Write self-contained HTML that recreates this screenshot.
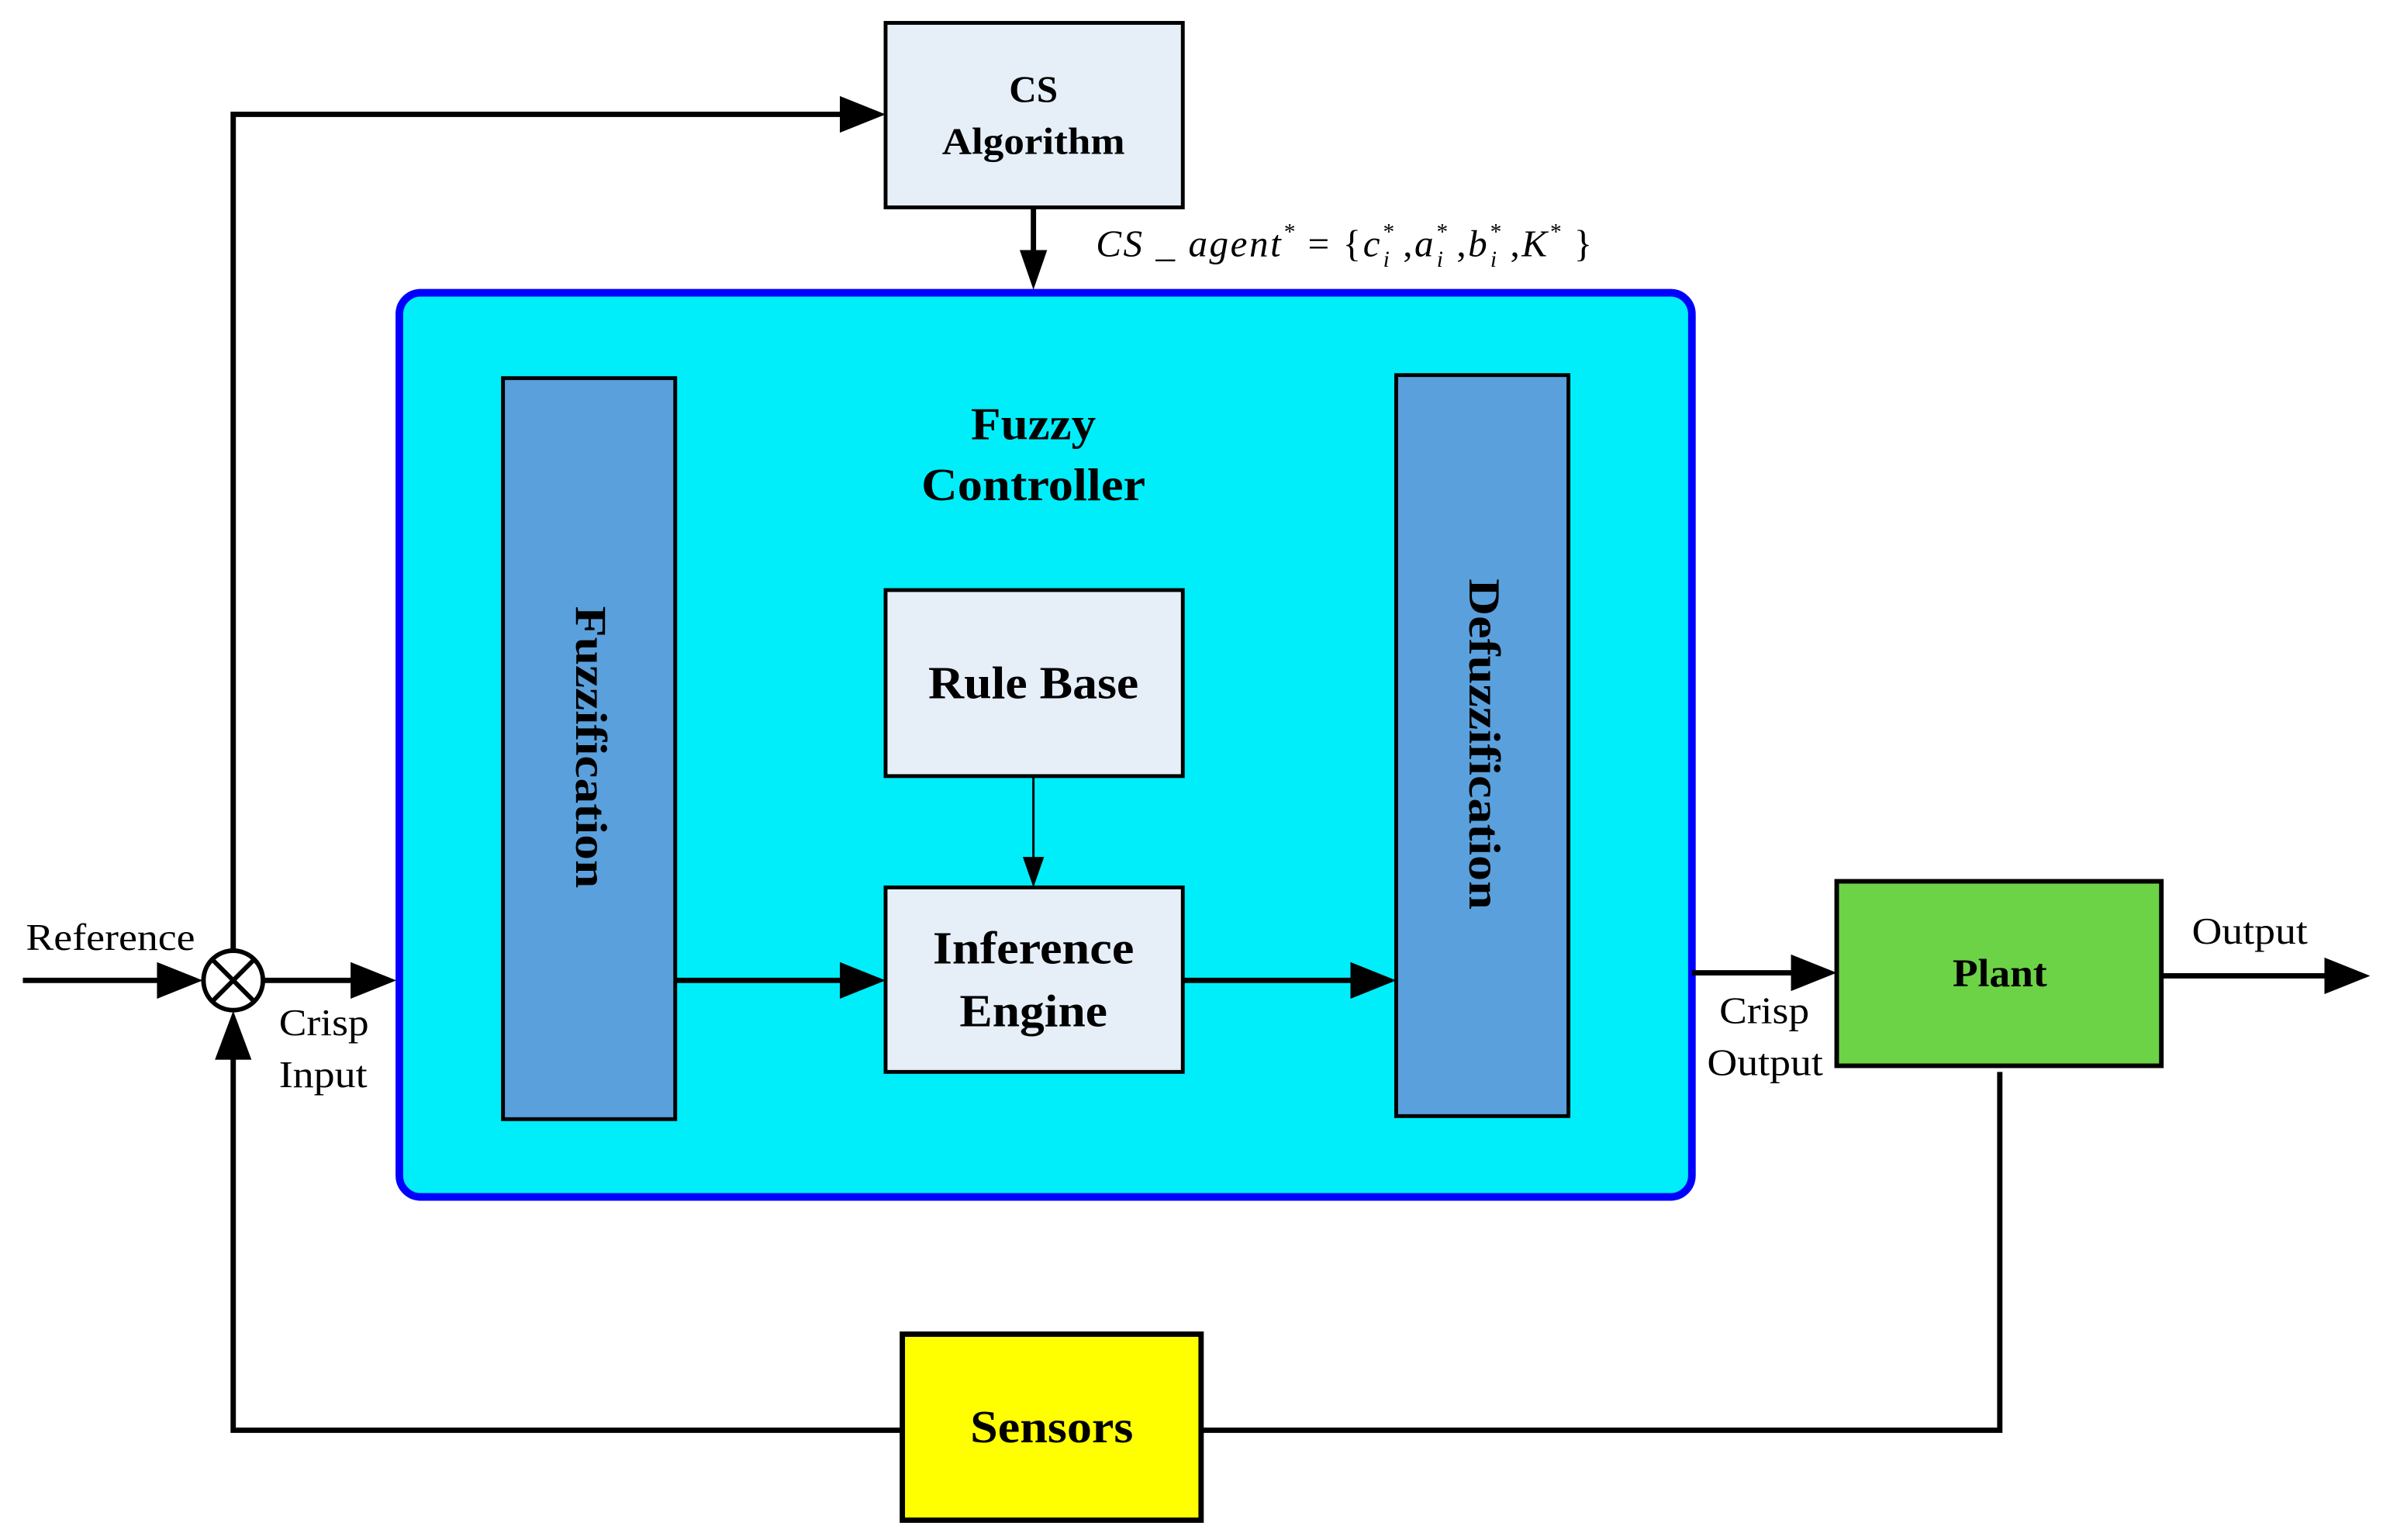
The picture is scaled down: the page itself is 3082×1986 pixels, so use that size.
<!DOCTYPE html>
<html><head><meta charset="utf-8"><style>
html,body{margin:0;padding:0;background:#fff;}
svg{display:block;}
text{font-family:"Liberation Serif",serif;}
</style></head><body>
<svg width="3082" height="1986" viewBox="0 0 1568 1010" preserveAspectRatio="none" xmlns="http://www.w3.org/2000/svg">
<rect x="0" y="0" width="1568" height="1010" fill="#fff"/>
<rect x="262" y="192" width="848" height="593" rx="14" fill="#00eefa" stroke="#0000ff" stroke-width="5"/>
<rect x="581" y="15" width="195" height="121" fill="#e6eef8" stroke="#000" stroke-width="2.5"/>
<text x="678" y="67" font-size="25" font-weight="bold" text-anchor="middle">CS</text>
<text x="678" y="101" font-size="25" font-weight="bold" text-anchor="middle" textLength="120" lengthAdjust="spacingAndGlyphs">Algorithm</text>
<text x="719" y="168" font-size="25" font-style="italic" letter-spacing="1.3">CS _ agent<tspan font-size="15" dy="-11">*</tspan><tspan dy="11" font-style="normal"> = {</tspan>c<tspan font-size="15" dy="-11">*</tspan><tspan font-size="15" dx="-8" dy="18">i</tspan><tspan dy="-7" font-style="normal">  ,</tspan>a<tspan font-size="15" dy="-11">*</tspan><tspan font-size="15" dx="-8" dy="18">i</tspan><tspan dy="-7" font-style="normal">  ,</tspan>b<tspan font-size="15" dy="-11">*</tspan><tspan font-size="15" dx="-8" dy="18">i</tspan><tspan dy="-7" font-style="normal">  ,</tspan>K<tspan font-size="15" dy="-11">*</tspan><tspan dy="11" font-style="normal"> }</tspan></text>
<rect x="330" y="248" width="113" height="486" fill="#5aa0dc" stroke="#000" stroke-width="2.5"/>
<rect x="916" y="246" width="113" height="486" fill="#5aa0dc" stroke="#000" stroke-width="2.5"/>
<text transform="translate(378,490) rotate(90)" font-size="29" font-weight="bold" text-anchor="middle" textLength="185" lengthAdjust="spacingAndGlyphs">Fuzzification</text>
<text transform="translate(964,488) rotate(90)" font-size="29" font-weight="bold" text-anchor="middle" textLength="217" lengthAdjust="spacingAndGlyphs">Defuzzification</text>
<text x="678" y="288" font-size="30" font-weight="bold" text-anchor="middle" textLength="82" lengthAdjust="spacingAndGlyphs">Fuzzy</text>
<text x="678" y="328" font-size="30" font-weight="bold" text-anchor="middle" textLength="147" lengthAdjust="spacingAndGlyphs">Controller</text>
<rect x="581" y="387" width="195" height="122" fill="#e6eef8" stroke="#000" stroke-width="2.5"/>
<text x="678" y="458" font-size="30" font-weight="bold" text-anchor="middle" textLength="138" lengthAdjust="spacingAndGlyphs">Rule Base</text>
<rect x="581" y="582" width="195" height="121" fill="#e6eef8" stroke="#000" stroke-width="2.5"/>
<text x="678" y="632" font-size="30" font-weight="bold" text-anchor="middle" textLength="132" lengthAdjust="spacingAndGlyphs">Inference</text>
<text x="678" y="673" font-size="30" font-weight="bold" text-anchor="middle" textLength="97" lengthAdjust="spacingAndGlyphs">Engine</text>
<rect x="1205" y="578" width="213" height="121" fill="#6cd246" stroke="#000" stroke-width="3"/>
<text x="1312" y="647" font-size="26" font-weight="bold" text-anchor="middle" textLength="62" lengthAdjust="spacingAndGlyphs">Plant</text>
<rect x="592" y="875" width="196" height="122" fill="#ffff00" stroke="#000" stroke-width="3.5"/>
<text x="690" y="946" font-size="30" font-weight="bold" text-anchor="middle" textLength="107" lengthAdjust="spacingAndGlyphs">Sensors</text>
<g stroke="#000" stroke-width="3.5" fill="none">
<polyline points="153,623 153,75 555,75"/>
<line x1="678" y1="136" x2="678" y2="168"/>
<line x1="15" y1="643" x2="107" y2="643"/>
<line x1="173" y1="643" x2="234" y2="643"/>
<line x1="443" y1="643" x2="553" y2="643"/>
<line x1="776" y1="643" x2="888" y2="643"/>
<line x1="1110" y1="638" x2="1177" y2="638"/>
<line x1="1418" y1="640" x2="1527" y2="640"/>
<polyline points="1312,703 1312,938 788,938"/>
<polyline points="592,938 153,938 153,690"/>
<line x1="678" y1="509" x2="678" y2="562" stroke-width="1.5"/>
</g>
<circle cx="153" cy="643" r="19.5" fill="#fff" stroke="#000" stroke-width="3"/>
<g stroke="#000" stroke-width="3"><line x1="140" y1="630" x2="166" y2="656"/><line x1="166" y1="630" x2="140" y2="656"/></g>
<g fill="#000">
<polygon points="581,75 551,63 551,87"/>
<polygon points="678,190 669,164 687,164"/>
<polygon points="133,643 103,631 103,655"/>
<polygon points="260,643 230,631 230,655"/>
<polygon points="581,643 551,631 551,655"/>
<polygon points="916,643 886,631 886,655"/>
<polygon points="1205,638 1175,626 1175,650"/>
<polygon points="1555,640 1525,628 1525,652"/>
<polygon points="153,663 141,695 165,695"/>
<polygon points="678,582 671,562 685,562"/>
</g>
<g font-size="25">
<text x="17" y="623" textLength="111" lengthAdjust="spacingAndGlyphs">Reference</text>
<text x="183" y="679" textLength="59" lengthAdjust="spacingAndGlyphs">Crisp</text>
<text x="183" y="713" textLength="58" lengthAdjust="spacingAndGlyphs">Input</text>
<text x="1128" y="671" textLength="59" lengthAdjust="spacingAndGlyphs">Crisp</text>
<text x="1120" y="705" textLength="76" lengthAdjust="spacingAndGlyphs">Output</text>
<text x="1438" y="619" textLength="76" lengthAdjust="spacingAndGlyphs">Output</text>
</g>
</svg>
</body></html>
